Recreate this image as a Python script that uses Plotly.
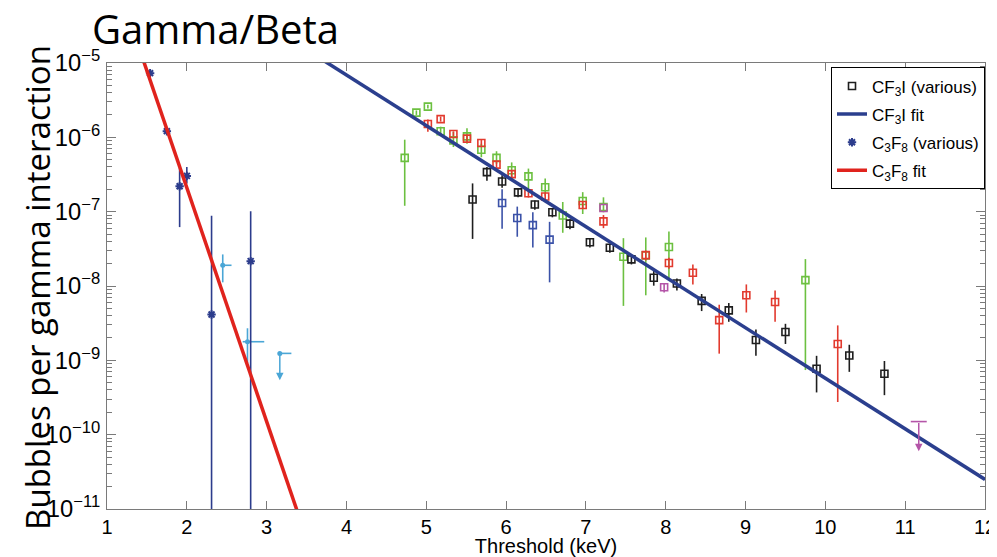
import numpy as np
import plotly.graph_objects as go

# ---------------- data ----------------
# CF3I black squares
blk_x  = [5.58, 5.76, 5.95, 6.15, 6.36, 6.58, 6.80, 7.05, 7.30, 7.57, 7.85, 8.14, 8.45, 8.79, 9.13, 9.50, 9.89, 10.30, 10.74]
blk_y  = [1.46e-7, 3.4e-7, 2.55e-7, 1.82e-7, 1.25e-7, 9.8e-8, 6.9e-8, 3.87e-8, 3.27e-8, 2.28e-8, 1.29e-8, 1.08e-8, 6.3e-9, 4.7e-9, 1.88e-9, 2.4e-9, 7.7e-10, 1.16e-9, 6.6e-10]
blk_hi = [2.4e-7, 4.0e-7, 3.1e-7, 2.07e-7, 1.41e-7, 1.11e-7, 7.9e-8, 4.4e-8, 3.7e-8, 2.66e-8, 1.59e-8, 1.26e-8, 7.8e-9, 5.9e-9, 2.6e-9, 3.1e-9, 1.15e-9, 1.62e-9, 9.8e-10]
blk_lo = [4.3e-8, 2.6e-7, 2.1e-7, 1.56e-7, 1.06e-7, 8.4e-8, 5.8e-8, 3.3e-8, 2.8e-8, 1.95e-8, 1.01e-8, 8.7e-9, 4.6e-9, 3.3e-9, 1.15e-9, 1.66e-9, 3.7e-10, 7.0e-10, 3.4e-10]

# CF3I green squares
grn_x  = [4.73, 4.876, 5.02, 5.18, 5.34, 5.51, 5.69, 5.88, 6.07, 6.28, 6.49, 6.71, 6.96, 7.22, 7.47, 7.75, 8.04, 9.75]
grn_y  = [5.3e-7, 2.15e-6, 2.59e-6, 1.21e-6, 9.1e-7, 1.03e-6, 6.8e-7, 5.3e-7, 3.6e-7, 2.98e-7, 2.13e-7, 8.9e-8, 1.39e-7, 1.15e-7, 2.48e-8, 2.58e-8, 3.35e-8, 1.2e-8]
grn_hi = [9.3e-7, 2.3e-6, 2.75e-6, 1.39e-6, 1.19e-6, 1.32e-6, 8.2e-7, 6.5e-7, 4.6e-7, 3.8e-7, 2.8e-7, 1.35e-7, 1.83e-7, 1.56e-7, 4.4e-8, 4.5e-8, 5.4e-8, 2.3e-8]
grn_lo = [1.2e-7, 2.0e-6, 2.45e-6, 1.07e-6, 7.4e-7, 8.2e-7, 5.4e-7, 4.4e-7, 2.8e-7, 2.0e-7, 1.64e-7, 5.2e-8, 9.3e-8, 9.8e-8, 5.4e-9, 7.5e-9, 1.2e-8, 7.4e-10]

# CF3I red squares
red_x  = [5.02, 5.18, 5.34, 5.51, 5.69, 5.88, 6.07, 6.28, 6.49, 6.96, 7.22, 7.75, 8.04, 8.34, 8.67, 9.01, 9.37, 10.155]
red_y  = [1.51e-6, 1.76e-6, 1.11e-6, 9.6e-7, 8.4e-7, 4.3e-7, 3.2e-7, 1.77e-7, 1.6e-7, 1.23e-7, 7.4e-8, 2.6e-8, 2.04e-8, 1.51e-8, 3.47e-9, 7.5e-9, 6.1e-9, 1.66e-9]
red_hi = [1.74e-6, 1.9e-6, 1.2e-6, 1.05e-6, 9.2e-7, 4.8e-7, 3.6e-7, 2.0e-7, 1.8e-7, 1.38e-7, 9.0e-8, 3.0e-8, 2.4e-8, 1.95e-8, 5.6e-9, 1.05e-8, 8.7e-9, 2.95e-9]
red_lo = [1.19e-6, 1.63e-6, 1.03e-6, 8.8e-7, 7.7e-7, 3.9e-7, 2.8e-7, 1.55e-7, 1.42e-7, 1.1e-7, 6.0e-8, 2.2e-8, 1.7e-8, 1.05e-8, 1.23e-9, 4.4e-9, 3.3e-9, 2.75e-10]

# CF3I blue squares
blu_x  = [5.95, 6.14, 6.335, 6.545]
blu_y  = [1.31e-7, 8.2e-8, 6.6e-8, 4.2e-8]
blu_hi = [2.0e-7, 1.17e-7, 9.8e-8, 7.3e-8]
blu_lo = [5.9e-8, 4.6e-8, 3.3e-8, 1.12e-8]

# CF3I magenta squares
mag_x  = [7.22, 7.98]
mag_y  = [1.12e-7, 9.6e-9]
mag_hi = [1.12e-7, 1.1e-8]
mag_lo = [1.12e-7, 8.2e-9]

# CF3I magenta upper limit
mul_x, mul_y, mul_xerr, mul_end = [11.17], [1.5e-10], [0.10], [6.0e-11]

# C3F8 (navy asterisks)
c3_x  = [1.54, 1.75, 1.91, 2.00, 2.31, 2.80]
c3_y  = [7.3e-6, 1.21e-6, 2.2e-7, 3.03e-7, 4.14e-9, 2.16e-8]
c3_hi = [7.8e-6, 1.35e-6, 3.9e-7, 4.0e-7, 8.8e-8, 1.01e-7]
c3_lo = [6.8e-6, 1.08e-6, 6.2e-8, 2.4e-7, 1e-12, 1e-12]

# C3F8 light-blue points (with horizontal bars)
lb_x      = [2.45, 2.76, 3.165]
lb_y      = [1.9e-8, 1.78e-9, 1.24e-9]
lb_hi     = [2.66e-8, 2.7e-9, 1.24e-9]
lb_lo     = [1.12e-8, 9.1e-10, 1.24e-9]
lb_xplus  = [0.11, 0.21, 0.145]
lb_xminus = [0.0, 0.06, 0.0]
lb_ul_x, lb_ul_y, lb_ul_end = [3.165], [1.24e-9], [5.4e-10]

# fit lines (end points)
cf3i_fit_x = [3.60, 12.0]
cf3i_fit_y = [1.29e-5, 2.5e-11]
c3f8_fit_x = [1.40, 3.40]
c3f8_fit_y = [1.62e-5, 8.3e-12]

x_ticks = list(range(1, 13))

# ---------------- styling ----------------
C_BLK = "#1e1e1e"
C_GRN = "#6cc040"
C_RED = "#e23a2e"
C_BLU = "#3b52a8"
C_MAG = "#b455a8"
C_NAVY = "#2c3c8c"
C_LB = "#4aa6d6"
C_FITB = "#2b3f8e"
C_FITR = "#e0231d"
TICKFONT = "Liberation Sans, Arial, sans-serif"
TITLEFONT = "Open Sans, Lato, sans-serif"

def sq_trace(x, y, hi, lo, color, name=None, show=False, rank=1000):
    return go.Scatter(
        x=x, y=y, mode="markers", name=name, showlegend=show, legendrank=rank,
        legendgroup=name or color,
        marker=dict(symbol="square-open", size=7, color=color, line=dict(width=1.6, color=color)),
        error_y=dict(type="data", symmetric=False,
                     array=[h - v for h, v in zip(hi, y)],
                     arrayminus=[v - l for v, l in zip(y, lo)],
                     color=color, thickness=1.6, width=0),
    )

fig = go.Figure()
fig.add_trace(sq_trace(grn_x, grn_y, grn_hi, grn_lo, C_GRN))
fig.add_trace(sq_trace(red_x, red_y, red_hi, red_lo, C_RED))
fig.add_trace(sq_trace(blu_x, blu_y, blu_hi, blu_lo, C_BLU))
fig.add_trace(sq_trace(mag_x, mag_y, mag_hi, mag_lo, C_MAG))
fig.add_trace(sq_trace(blk_x, blk_y, blk_hi, blk_lo, C_BLK, name="CF<sub>3</sub>I (various)", show=True, rank=1))

# magenta upper limit cap
fig.add_trace(go.Scatter(
    x=mul_x, y=mul_y, mode="markers", showlegend=False,
    marker=dict(size=1, color="rgba(0,0,0,0)"),
    error_x=dict(type="data", array=mul_xerr, color=C_MAG, thickness=1.6, width=0),
))

# light blue points
fig.add_trace(go.Scatter(
    x=lb_x, y=lb_y, mode="markers", showlegend=False,
    marker=dict(symbol="circle", size=5, color=C_LB),
    error_y=dict(type="data", symmetric=False,
                 array=[h - v for h, v in zip(lb_hi, lb_y)],
                 arrayminus=[v - l for v, l in zip(lb_y, lb_lo)],
                 color=C_LB, thickness=1.6, width=0),
    error_x=dict(type="data", symmetric=False, array=lb_xplus, arrayminus=lb_xminus,
                 color=C_LB, thickness=1.6, width=0),
))

# C3F8 navy
fig.add_trace(go.Scatter(
    x=c3_x, y=c3_y, mode="markers", name="C<sub>3</sub>F<sub>8</sub> (various)", legendrank=3,
    legendgroup="c3",
    marker=dict(symbol="asterisk-open", size=7, color=C_NAVY, line=dict(width=2, color=C_NAVY)),
    error_y=dict(type="data", symmetric=False,
                 array=[h - v for h, v in zip(c3_hi, c3_y)],
                 arrayminus=[v - l for v, l in zip(c3_y, c3_lo)],
                 color=C_NAVY, thickness=1.6, width=0),
))

# fits
fig.add_trace(go.Scatter(x=cf3i_fit_x, y=cf3i_fit_y, mode="lines", name="CF<sub>3</sub>I fit",
                         legendrank=2, legendgroup="f1", line=dict(color=C_FITB, width=3.5)))
fig.add_trace(go.Scatter(x=c3f8_fit_x, y=c3f8_fit_y, mode="lines", name="C<sub>3</sub>F<sub>8</sub> fit",
                         legendrank=4, legendgroup="f2", line=dict(color=C_FITR, width=3.5)))

# upper-limit arrows
for xs, ys, ye, col in [(lb_ul_x, lb_ul_y, lb_ul_end, C_LB), (mul_x, mul_y, mul_end, C_MAG)]:
    for xv, yv, ev in zip(xs, ys, ye):
        fig.add_annotation(x=xv, y=np.log10(ev), ax=xv, ay=np.log10(yv), xref="x", yref="y",
                           axref="x", ayref="y", showarrow=True, arrowhead=2, arrowsize=1,
                           arrowwidth=1.5, arrowcolor=col, text="")

fig.add_annotation(text="Gamma/Beta", xref="paper", yref="paper", x=-0.0194, y=1.078,
                   xanchor="left", yanchor="middle", showarrow=False,
                   font=dict(family=TITLEFONT, size=40, color="black"))
fig.add_annotation(text="Bubbles per gamma interaction", xref="paper", yref="paper",
                   x=-0.0786, y=0.498, xanchor="center", yanchor="middle", textangle=-90,
                   showarrow=False, font=dict(family=TITLEFONT, size=33, color="black"))

# page body has an 8px margin: figure is sized/offset so the plot lands where the reference has it
fig.update_layout(
    width=989, height=549,
    margin=dict(l=99, r=12, t=55, b=48),
    paper_bgcolor="white", plot_bgcolor="white",
    font=dict(family=TICKFONT, color="black"),
    legend=dict(x=1.0, xanchor="right", y=0.99, yanchor="top",
                bgcolor="white", bordercolor="black", borderwidth=1,
                font=dict(family=TICKFONT, size=17, color="black"),
                itemwidth=30, tracegroupgap=3),
    xaxis=dict(range=[1, 12], tickvals=x_ticks, ticktext=[str(v) for v in x_ticks],
               automargin=False,
               showgrid=False, zeroline=False, showline=True, linecolor="#7a7a7a", linewidth=1,
               mirror="ticks", ticks="inside", ticklen=8, tickcolor="#7a7a7a",
               tickfont=dict(family=TICKFONT, size=20, color="black"),
               title=dict(text="Threshold (keV)", font=dict(family=TICKFONT, size=20, color="black"),
                          standoff=3)),
    yaxis=dict(type="log", range=[-11, -5], dtick=1, exponentformat="power",
               automargin=False,
               showgrid=False, zeroline=False, showline=True, linecolor="#7a7a7a", linewidth=1,
               mirror="ticks", ticks="inside", ticklen=9, tickcolor="#7a7a7a",
               minor=dict(ticks="inside", ticklen=5, dtick="D1", tickcolor="#7a7a7a", showgrid=False),
               tickfont=dict(family=TICKFONT, size=19, color="black"), ticklabelstandoff=2),
)

fig.write_html("out.html")
